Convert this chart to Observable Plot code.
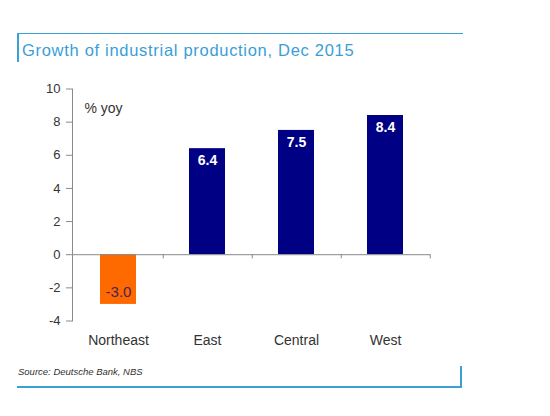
<!DOCTYPE html>
<html>
<head>
<meta charset="utf-8">
<script src="https://cdn.jsdelivr.net/npm/d3@7"></script>
<script src="https://cdn.jsdelivr.net/npm/@observablehq/plot@0.6"></script>
<style>
  html, body { margin: 0; padding: 0; background: #fff; }
  #wrap { position: relative; width: 550px; height: 416px; overflow: hidden; font-family: "Liberation Sans", Arial, sans-serif; }
  .abs { position: absolute; }
  #title { left: 22px; top: 42px; font-size: 16.5px; line-height: 16px; letter-spacing: 0.7px; color: #3a9ed6; white-space: nowrap; }
  #source { left: 18px; top: 367px; font-size: 9.5px; line-height: 9px; font-style: italic; color: #333; white-space: nowrap; }
  .bl { background: #3aa0d8; }
  #chart { left: 0; top: 70px; }
</style>
</head>
<body>
<div id="wrap">
  <div class="abs bl" style="left:17px; top:33px; width:446px; height:1px;"></div>
  <div class="abs bl" style="left:17px; top:33px; width:2px; height:29px;"></div>
  <div id="title" class="abs">Growth of industrial production, Dec 2015</div>
  <div id="chart" class="abs"></div>
  <div id="source" class="abs">Source: Deutsche Bank, NBS</div>
  <div class="abs bl" style="left:17px; top:386px; width:445px; height:2px;"></div>
  <div class="abs bl" style="left:460px; top:366px; width:2px; height:22px;"></div>
</div>
<script>
const regions = ["Northeast", "East", "Central", "West"];
const growth = [-3.0, 6.4, 7.5, 8.4];
const yTicks = [-4, -2, 0, 2, 4, 6, 8, 10];
const unitLabel = "% yoy";

const data = regions.map((r, i) => ({region: r, value: growth[i]}));
const pos = data.filter(d => d.value >= 0);
const neg = data.filter(d => d.value < 0);

const W = 550, H = 290, mL = 72, mR = 120, mT = 18.5, mB = 39.5;
const pIn = 0.6, pOut = 0.3;
const step = (W - mL - mR) / (regions.length - pIn + 2 * pOut);
const axisColor = "#8a8a8a";

const chart = Plot.plot({
  width: W,
  height: H,
  marginLeft: mL,
  marginRight: mR,
  marginTop: mT,
  marginBottom: mB,
  style: { fontFamily: "Liberation Sans, Arial, sans-serif", background: "transparent", overflow: "visible" },
  x: { domain: regions, paddingInner: pIn, paddingOuter: pOut, label: null },
  y: { domain: [-4, 10], label: null },
  marks: [
    Plot.barY(data, { x: "region", y: "value", fill: d => d.value < 0 ? "#ff6a00" : "#000085" }),
    Plot.ruleY([0], { stroke: axisColor, strokeWidth: 1 }),
    Plot.ruleX(regions, { x: d => d, y1: 0, y2: -0.25, dx: step / 2, stroke: axisColor }),
    Plot.frame({ anchor: "left", stroke: axisColor }),
    Plot.axisY({ ticks: yTicks, tickSize: 6, tickPadding: 6, stroke: axisColor, color: "#333", fontSize: 13, label: null, tickFormat: d => d }),
    Plot.axisX({ tickSize: 0, tickPadding: 14, fontSize: 14, color: "#333", label: null }),
    Plot.text(pos, {
      x: "region", y: "value", text: d => d.value.toFixed(1),
      textAnchor: "middle", dy: 12, fill: "#ffffff", fontWeight: "bold", fontSize: 14
    }),
    Plot.text(neg, {
      x: "region", y: "value", text: d => d.value.toFixed(1),
      textAnchor: "middle", dy: -12, fill: "#4a1f5e", fontSize: 15
    }),
    Plot.text([unitLabel], { frameAnchor: "top-left", dx: 12, dy: 14.5, textAnchor: "start", fontSize: 14, fill: "#333" })
  ]
});
document.getElementById("chart").appendChild(chart);
</script>
</body>
</html>
